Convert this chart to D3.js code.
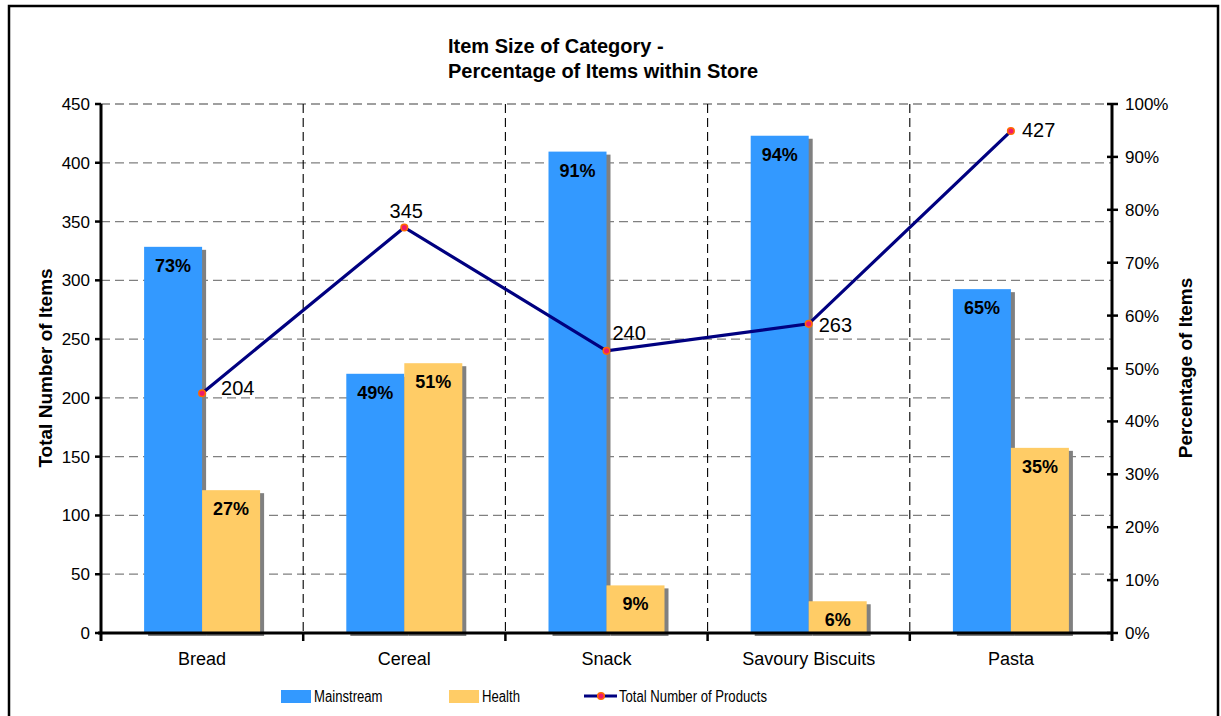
<!DOCTYPE html>
<html>
<head>
<meta charset="utf-8">
<script src="https://cdn.jsdelivr.net/npm/d3@7"></script>
<style>
  html, body { margin: 0; padding: 0; background: #fff; overflow: hidden; }
  svg { display: block; font-family: Arial, "Liberation Sans", sans-serif; }
</style>
</head>
<body>
<svg id="chart" width="1221" height="716"></svg>
<script>
// ---- data ----
const categories = ["Bread", "Cereal", "Snack", "Savoury Biscuits", "Pasta"];
const mainstreamShare = [0.73, 0.49, 0.91, 0.94, 0.65];
const healthShare = [0.27, 0.51, 0.09, 0.06, 0.35];
const totalProducts = [204, 345, 240, 263, 427];
const leftTicks = [0, 50, 100, 150, 200, 250, 300, 350, 400, 450];
const rightTicks = [0, 0.1, 0.2, 0.3, 0.4, 0.5, 0.6, 0.7, 0.8, 0.9, 1.0];
const seriesNames = ["Mainstream", "Health", "Total Number of Products"];

// ---- layout ----
const plot = { left: 101, right: 1112, top: 104, bottom: 633 };
const barW = 58;
const colors = { main: "#3399FF", health: "#FFCC66", shadow: "#808080", line: "#000080",
                 markerFill: "#EE1A6A", markerStroke: "#FF6A00" };

const svg = d3.select("#chart");

// page frame
svg.append("rect").attr("x", 9).attr("y", 6).attr("width", 1209).attr("height", 740)
  .attr("fill", "none").attr("stroke", "#000").attr("stroke-width", 2.5);

const x = d3.scaleBand().domain(categories).range([plot.left, plot.right]).padding(0);
const yLeft = d3.scaleLinear().domain([0, 450]).range([plot.bottom, plot.top]);
const yRight = d3.scaleLinear().domain([0, 1]).range([plot.bottom, plot.top]);
const cx = c => x(c) + x.bandwidth() / 2;

// horizontal gridlines (left axis ticks)
svg.append("g").selectAll("line").data(leftTicks.filter(v => v > 0)).join("line")
  .attr("x1", plot.left).attr("x2", plot.right)
  .attr("y1", d => yLeft(d)).attr("y2", d => yLeft(d))
  .attr("stroke", "#808080").attr("stroke-width", 1.3).attr("stroke-dasharray", "9,5");

// vertical gridlines between categories
svg.append("g").selectAll("line").data(categories.slice(1)).join("line")
  .attr("x1", d => x(d)).attr("x2", d => x(d))
  .attr("y1", plot.top).attr("y2", plot.bottom)
  .attr("stroke", "#000").attr("stroke-width", 1.1).attr("stroke-dasharray", "9,5");

// bars with drop shadow
const barData = [];
categories.forEach((c, i) => {
  barData.push({ c, v: mainstreamShare[i], x0: cx(c) - barW, fill: colors.main });
  barData.push({ c, v: healthShare[i], x0: cx(c), fill: colors.health });
});
const bars = svg.append("g");
bars.selectAll("rect.shadow").data(barData).join("rect").attr("class", "shadow")
  .attr("x", d => d.x0 + 4).attr("y", d => yRight(d.v) + 3)
  .attr("width", barW).attr("height", d => plot.bottom - yRight(d.v))
  .attr("fill", colors.shadow);
bars.selectAll("rect.bar").data(barData).join("rect").attr("class", "bar")
  .attr("x", d => d.x0).attr("y", d => yRight(d.v))
  .attr("width", barW).attr("height", d => plot.bottom - yRight(d.v))
  .attr("fill", d => d.fill);
bars.selectAll("text").data(barData).join("text")
  .attr("x", d => d.x0 + barW / 2).attr("y", d => yRight(d.v) + 25)
  .attr("text-anchor", "middle").attr("font-size", 18).attr("font-weight", "bold")
  .text(d => d3.format(".0%")(d.v));

// axes
const axisG = svg.append("g");
// left axis
axisG.append("line").attr("x1", plot.left).attr("x2", plot.left)
  .attr("y1", plot.top).attr("y2", plot.bottom + 8).attr("stroke", "#000").attr("stroke-width", 3);
axisG.selectAll("line.lt").data(leftTicks).join("line").attr("class", "lt")
  .attr("x1", plot.left - 6).attr("x2", plot.left)
  .attr("y1", d => yLeft(d)).attr("y2", d => yLeft(d))
  .attr("stroke", "#000").attr("stroke-width", 2.5);
axisG.selectAll("text.lt").data(leftTicks).join("text").attr("class", "lt")
  .attr("x", plot.left - 11).attr("y", d => yLeft(d) + 6)
  .attr("text-anchor", "end").attr("font-size", 17).text(d => d);
// right axis
axisG.append("line").attr("x1", plot.right).attr("x2", plot.right)
  .attr("y1", plot.top).attr("y2", plot.bottom + 8).attr("stroke", "#000").attr("stroke-width", 3);
axisG.selectAll("line.rt").data(rightTicks).join("line").attr("class", "rt")
  .attr("x1", plot.right - 5).attr("x2", plot.right + 6)
  .attr("y1", d => yRight(d)).attr("y2", d => yRight(d))
  .attr("stroke", "#000").attr("stroke-width", 2.5);
axisG.selectAll("text.rt").data(rightTicks).join("text").attr("class", "rt")
  .attr("x", plot.right + 13).attr("y", d => yRight(d) + 6)
  .attr("font-size", 17).text(d => d3.format(".0%")(d));
// category axis
axisG.append("line").attr("x1", plot.left - 3).attr("x2", plot.right)
  .attr("y1", plot.bottom).attr("y2", plot.bottom).attr("stroke", "#000").attr("stroke-width", 3);
axisG.selectAll("line.ct").data(categories.slice(1)).join("line").attr("class", "ct")
  .attr("x1", d => x(d)).attr("x2", d => x(d))
  .attr("y1", plot.bottom).attr("y2", plot.bottom + 8)
  .attr("stroke", "#000").attr("stroke-width", 2.5);
axisG.selectAll("text.ct").data(categories).join("text").attr("class", "ct")
  .attr("x", d => cx(d)).attr("y", 665)
  .attr("text-anchor", "middle").attr("font-size", 18).text(d => d);

// total products line
const pts = categories.map((c, i) => ({ c, v: totalProducts[i], px: cx(c), py: yLeft(totalProducts[i]) }));
svg.append("path").datum(pts)
  .attr("d", d3.line().x(d => d.px).y(d => d.py))
  .attr("fill", "none").attr("stroke", colors.line).attr("stroke-width", 3.2);
svg.append("g").selectAll("circle").data(pts).join("circle")
  .attr("cx", d => d.px).attr("cy", d => d.py).attr("r", 3.3)
  .attr("fill", colors.markerFill).attr("stroke", colors.markerStroke).attr("stroke-width", 1.5);
// value label offsets from each point: [dx, dy, anchor]
const labelNudge = [[19, 2, "start"], [2, -9, "middle"], [6, -11, "start"], [10, 8, "start"], [11, 6, "start"]];
svg.append("g").selectAll("text").data(pts).join("text")
  .attr("x", (d, i) => d.px + labelNudge[i][0]).attr("y", (d, i) => d.py + labelNudge[i][1])
  .attr("text-anchor", (d, i) => labelNudge[i][2])
  .attr("font-size", 20).text(d => d.v);

// titles
const title = svg.append("text").attr("font-size", 20).attr("font-weight", "bold");
title.append("tspan").attr("x", 448).attr("y", 53).text("Item Size of Category -");
title.append("tspan").attr("x", 448).attr("y", 78).text("Percentage of Items within Store");
svg.append("text").attr("transform", "translate(52,368) rotate(-90)")
  .attr("text-anchor", "middle").attr("font-size", 19).attr("font-weight", "bold")
  .text("Total Number of Items");
svg.append("text").attr("transform", "translate(1192,368) rotate(-90)")
  .attr("text-anchor", "middle").attr("font-size", 19).attr("font-weight", "bold")
  .text("Percentage of Items");

// legend (condensed lettering)
const lg = svg.append("g").attr("font-size", 16);
lg.append("rect").attr("x", 281).attr("y", 690).attr("width", 30).attr("height", 13).attr("fill", colors.main);
lg.append("rect").attr("x", 449).attr("y", 690).attr("width", 30).attr("height", 13).attr("fill", colors.health);
lg.append("line").attr("x1", 584).attr("x2", 617).attr("y1", 696).attr("y2", 696)
  .attr("stroke", colors.line).attr("stroke-width", 3.2);
lg.append("circle").attr("cx", 601).attr("cy", 696).attr("r", 3.3)
  .attr("fill", colors.markerFill).attr("stroke", colors.markerStroke).attr("stroke-width", 1.5);
lg.selectAll("text").data(seriesNames).join("text")
  .attr("x", (d, i) => [314, 482, 619][i]).attr("y", 702)
  .text(d => d)
  .each(function () {
    const w = this.getComputedTextLength();
    d3.select(this).attr("textLength", w * 0.82).attr("lengthAdjust", "spacingAndGlyphs");
  });
</script>
</body>
</html>
